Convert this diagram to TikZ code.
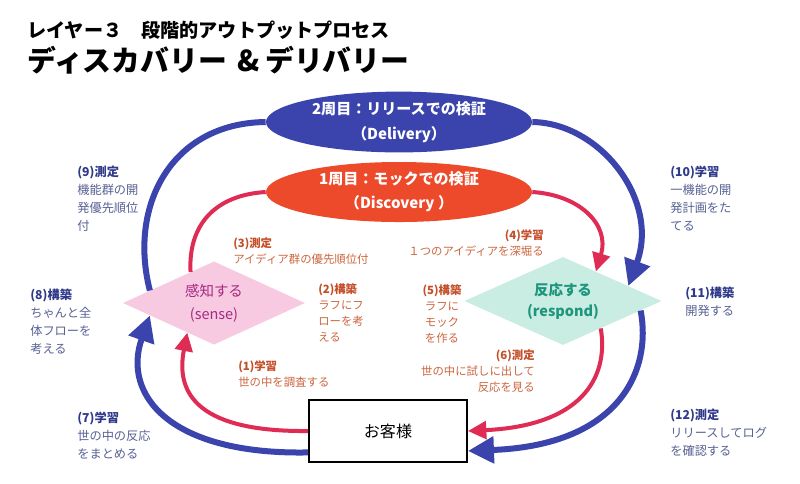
\documentclass[tikz,border=0pt]{standalone}
\usepackage{fontspec}
\setmainfont{Noto Sans CJK JP}
\usetikzlibrary{arrows.meta,shapes.geometric}
\definecolor{loopBlue}{RGB}{58,68,172}
\definecolor{loopRed}{RGB}{222,44,84}
\definecolor{mockRed}{RGB}{236,74,42}
\definecolor{labelNavy}{RGB}{48,58,138}
\definecolor{labelSlate}{RGB}{88,98,148}
\definecolor{labelRust}{RGB}{196,78,40}
\definecolor{labelBrown}{RGB}{204,102,64}
\definecolor{senseFill}{RGB}{248,202,226}
\definecolor{senseInk}{RGB}{165,40,130}
\definecolor{respondFill}{RGB}{202,237,227}
\definecolor{respondInk}{RGB}{30,150,125}
\newcommand{\NavyStep}[2]{{\bfseries\color{labelNavy}#1}\\#2}
\newcommand{\RustStep}[2]{{\bfseries\color{labelRust}#1}\\#2}

\begin{document}
\begin{tikzpicture}[x=0.025cm,y=-0.025cm,
  navytext/.style={inner sep=0pt,text=labelSlate,font=\fontsize{8.7}{12.8}\selectfont},
  rusttext/.style={inner sep=0pt,text=labelBrown,font=\fontsize{8.1}{11.4}\selectfont},
  blueflow/.style={loopBlue,line width=0.15cm},
  redflow/.style={loopRed,line width=0.1cm},
  bluehead/.style={-{Triangle[length=0.65cm,width=0.65cm]}},
  redhead/.style={-{Triangle[length=0.46cm,width=0.44cm]}}]
\path[use as bounding box,fill=white] (0,0) rectangle (800,483);

\node[anchor=west,inner sep=0pt,font=\bfseries\fontsize{13.6}{16}\selectfont] (layer) at (27,30) {レイヤー３　段階的アウトプットプロセス};
\node[anchor=west,inner sep=0pt,font=\bfseries\fontsize{20.5}{23}\selectfont] (heading) at (27,60) {ディスカバリー\hspace{0.35em}\&\hspace{0.2em}デリバリー};

\node[ellipse,fill=loopBlue,minimum width=6.65cm,minimum height=1.52cm,inner sep=0pt,align=center,
      text=white,font=\bfseries\fontsize{10.7}{17.5}\selectfont] (delivery) at (399,122) {2周目：リリースでの検証\\（Delivery）};
\node[ellipse,fill=mockRed,minimum width=6.65cm,minimum height=1.5cm,inner sep=0pt,align=center,
      text=white,font=\bfseries\fontsize{10.7}{17}\selectfont] (discovery) at (399,192) {1周目：モックでの検証\\（Discovery ）};

\node[diamond,fill=senseFill,minimum width=4.55cm,minimum height=2.08cm,aspect=2.2,inner sep=0pt,align=center,
      text=senseInk,font=\fontsize{10.3}{16.3}\selectfont] (sense) at (214,303) {感知する\\(sense)};
\node[diamond,fill=respondFill,minimum width=4.93cm,minimum height=2.2cm,aspect=2.2,inner sep=0pt,align=center,
      text=respondInk,font=\bfseries\fontsize{10.3}{15}\selectfont] (respond) at (563,301) {反応する\\(respond)};
\node[draw=black,line width=1.3pt,minimum width=3.95cm,minimum height=1.55cm,font=\fontsize{11.4}{14}\selectfont] (customer) at (388,431) {お客様};

\draw[blueflow] (delivery.west) .. controls (172,123) and (128,205) .. (sense.169);
\draw[redflow] (discovery.west) .. controls (215,195) and (188,225) .. (sense.127);
\draw[blueflow,bluehead] (delivery.east) .. controls (600,123) and (660,200) .. (respond.13);
\draw[redflow,redhead] (discovery.east) .. controls (580,195) and (610,225) .. (respond.42);
\draw[blueflow,bluehead] (respond.353) .. controls (652,370) and (620,445) .. (customer.346);
\draw[redflow,redhead] (respond.324) .. controls (608,370) and (590,425) .. (customer.east);
\draw[blueflow,bluehead] (customer.195) .. controls (170,455) and (122,395) .. (sense.191);
\draw[redflow,redhead] (customer.west) .. controls (200,432) and (175,395) .. (sense.228);

\node[navytext,anchor=north west,align=left] (m9) at (77,166) {\NavyStep{(9)測定}{機能群の開\\発優先順位\\付}};
\node[navytext,anchor=north west,align=left] (m10) at (670,166) {\NavyStep{(10)学習}{一機能の開\\発計画をた\\てる}};
\node[navytext,anchor=north west,align=left] (m8) at (30,289) {\NavyStep{(8)構築}{ちゃんと全\\体フローを\\考える}};
\node[navytext,anchor=north west,align=left] (m11) at (685,287) {\NavyStep{(11)構築}{開発する}};
\node[navytext,anchor=north west,align=left] (m7) at (77,412) {\NavyStep{(7)学習}{世の中の反応\\をまとめる}};
\node[navytext,anchor=north west,align=left] (m12) at (670,409) {\NavyStep{(12)測定}{リリースしてログ\\を確認する}};

\node[rusttext,anchor=north west,align=left] (m3) at (233,237) {\RustStep{(3)測定}{アイディア群の優先順位付}};
\node[rusttext,anchor=north east,align=right] (m4) at (544,229) {\RustStep{(4)学習}{１つのアイディアを深堀る}};
\node[rusttext,anchor=north west,align=left] (m2) at (318,283) {\RustStep{(2)構築}{ラフにフ\\ローを考\\える}};
\node[rusttext,anchor=north,align=center] (m5) at (442,284) {\RustStep{(5)構築}{ラフに\\モック\\を作る}};
\node[rusttext,anchor=north west,align=left] (m1) at (238,360) {\RustStep{(1)学習}{世の中を調査する}};
\node[rusttext,anchor=north east,align=right] (m6) at (535,349) {\RustStep{(6)測定}{世の中に試しに出して\\反応を見る}};
\end{tikzpicture}
\end{document}
